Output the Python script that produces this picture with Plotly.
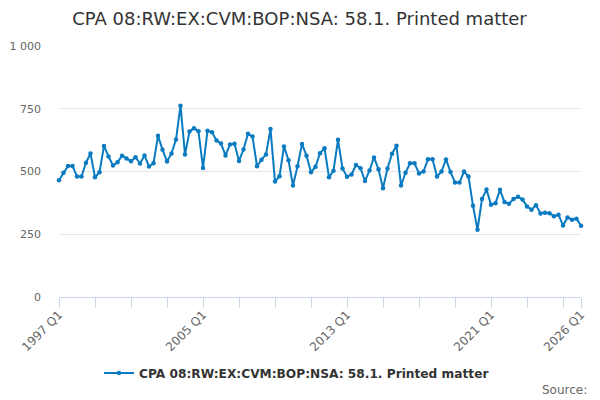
import plotly.graph_objects as go

title = "CPA 08:RW:EX:CVM:BOP:NSA: 58.1. Printed matter"

# quarters 1997 Q1 .. 2026 Q1
quarters = [f"{y} Q{q}" for y in range(1997, 2027) for q in range(1, 5)][:117]

values = [
    465, 495, 522, 522, 480, 480, 535, 572, 477, 497, 602, 560,
    524, 537, 563, 552, 541, 557, 532, 564, 520, 533, 642, 587,
    540, 572, 627, 762, 568, 659, 672, 660, 514, 662, 656, 624,
    612, 564, 608, 611, 542, 588, 650, 639, 521, 547, 568, 669,
    460, 481, 600, 545, 444, 521, 610, 563, 497, 519, 573, 593,
    477, 503, 626, 512, 479, 488, 526, 513, 462, 504, 556, 509,
    433, 512, 571, 603, 444, 495, 533, 533, 492, 500, 549, 549,
    480, 500, 548, 498, 456, 456, 500, 480, 364, 268, 390, 428,
    368, 374, 427, 378, 372, 390, 399, 388, 361, 348, 366, 333,
    336, 334, 322, 328, 285, 317, 308, 312, 284,
]

labelled = ["1997 Q1", "2005 Q1", "2013 Q1", "2021 Q1", "2026 Q1"]
tick_vals = quarters[::8] + [quarters[-1]]
tick_text = [q if q in labelled else "" for q in tick_vals]

fig = go.Figure()
fig.add_trace(go.Scatter(
    x=quarters, y=values, name=title, mode="lines+markers",
    line=dict(color="#0a7bc1", width=2),
    marker=dict(size=4.5, color="#0a7bc1"),
    cliponaxis=False,
))

# page body has an 8px offset, so the figure is a bit smaller than the window
fig.update_layout(
    width=592, height=392,
    paper_bgcolor="white", plot_bgcolor="white",
    font=dict(family="DejaVu Sans", color="#666666", size=11),
    separators=". ",
    margin=dict(l=51, r=19, t=38, b=103, autoexpand=False),
    title=dict(text=title, x=0.4924, xanchor="center", y=0.974, yanchor="middle",
               font=dict(size=18, color="#333333")),
    showlegend=True,
    legend=dict(orientation="h", x=0.455, xanchor="center", y=-0.303, yanchor="middle",
                font=dict(size=12.2, color="#333333", weight="bold")),
)
fig.update_xaxes(
    type="category", range=[0, len(quarters) - 1], automargin=False,
    tickmode="array", tickvals=tick_vals, ticktext=tick_text,
    tickangle=-45, ticks="outside", ticklen=10, tickcolor="#ccd6eb",
    showline=True, linecolor="#ccd6eb", showgrid=False,
    ticklabelstandoff=-5, tickfont=dict(size=12, color="#666666"),
)
fig.update_yaxes(
    range=[0, 1000], tickvals=[0, 250, 500, 750, 1000], separatethousands=True,
    automargin=False,
    gridcolor="#e6e6e6", zeroline=False, showline=False,
    ticklabelstandoff=17, tickfont=dict(size=11, color="#666666"),
)
fig.add_annotation(text="Source:", xref="paper", yref="paper", x=1.015, y=-0.37,
                   xanchor="right", yanchor="middle", showarrow=False,
                   font=dict(size=12, color="#666666"))

fig.write_html("out.html")
